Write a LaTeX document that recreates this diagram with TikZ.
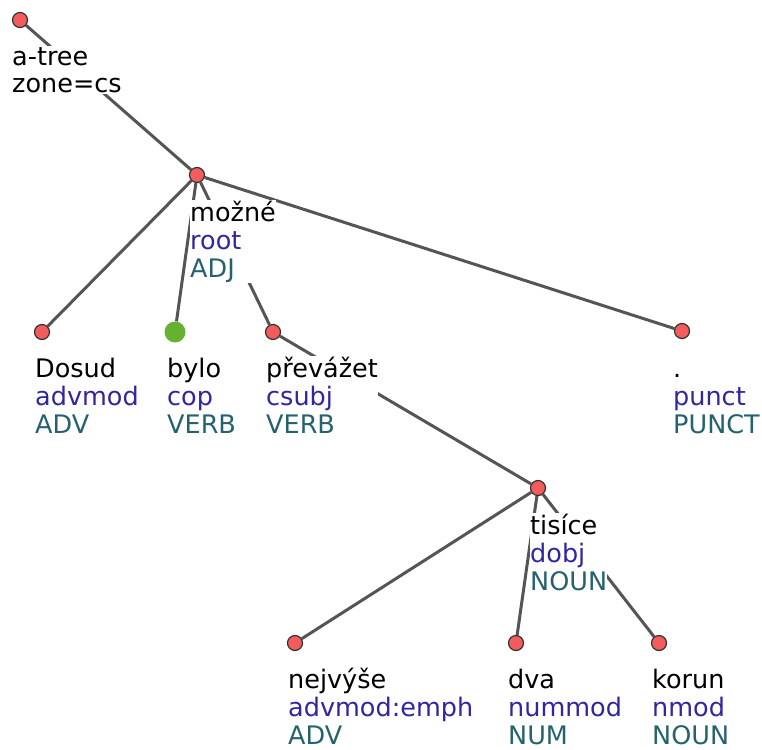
\documentclass[tikz,border=0pt]{standalone}
\usepackage{fontspec}
\setmainfont{DejaVu Sans}
\usepackage{xcolor}
\usetikzlibrary{positioning, backgrounds}
\definecolor{deprelcol}{RGB}{48,38,160}
\definecolor{uposcol}{RGB}{38,98,110}
\definecolor{edgecol}{RGB}{85,85,85}
\definecolor{nodecol}{RGB}{242,92,92}
\definecolor{copcol}{RGB}{102,176,50}
\tikzstyle{tok} = [circle, draw=black!80, fill=nodecol, line width=1.2pt, minimum size=15pt, inner sep=0pt]
\tikzstyle{copula} = [circle, fill=copcol, minimum size=21pt, inner sep=0pt]
\tikzstyle{lbl} = [anchor=base west, align=left, fill=white, inner xsep=0pt, inner ysep=1pt, font=\fontsize{25.5}{28}\selectfont]
\tikzstyle{edge} = [draw=edgecol, line width=3pt]
\newcommand{\dep}[1]{\textcolor{deprelcol}{#1}}
\newcommand{\upos}[1]{\textcolor{uposcol}{#1}}

\begin{document}
\begin{tikzpicture}[x=1pt, y=-1pt]
    \useasboundingbox (0,0) rectangle (762,749);
    % Tokens
    \node [tok] (atree) at (20,20) {};
    \node [tok] (mozne) at (197,175) {};
    \node [tok] (dosud) at (42,332) {};
    \node [copula] (bylo) at (175,332) {};
    \node [tok] (prevazet) at (273,332) {};
    \node [tok] (punct) at (682,331) {};
    \node [tok] (tisice) at (538,488) {};
    \node [tok] (nejvyse) at (295,643) {};
    \node [tok] (dva) at (516,643) {};
    \node [tok] (korun) at (659,643) {};

    % Labels (anchored at the baseline of the last line)
    \node [lbl] (atree-l) at ([xshift=-8pt, yshift=-73pt]atree) {a-tree\\zone=cs};
    \node [lbl] (mozne-l) at ([xshift=-7pt, yshift=-102pt]mozne) {možné\\\dep{root}\\\upos{ADJ}};
    \node [lbl] (dosud-l) at ([xshift=-7pt, yshift=-101pt]dosud) {Dosud\\\dep{advmod}\\\upos{ADV}};
    \node [lbl] (bylo-l) at ([xshift=-8pt, yshift=-101pt]bylo) {bylo\\\dep{cop}\\\upos{VERB}};
    \node [lbl] (prevazet-l) at ([xshift=-7pt, yshift=-101pt]prevazet) {převážet\\\dep{csubj}\\\upos{VERB}};
    \node [lbl] (punct-l) at ([xshift=-9pt, yshift=-102pt]punct) {.\\\dep{punct}\\\upos{PUNCT}};
    \node [lbl] (tisice-l) at ([xshift=-8pt, yshift=-102pt]tisice) {tisíce\\\dep{dobj}\\\upos{NOUN}};
    \node [lbl] (nejvyse-l) at ([xshift=-7pt, yshift=-101pt]nejvyse) {nejvýše\\\dep{advmod:emph}\\\upos{ADV}};
    \node [lbl] (dva-l) at ([xshift=-8pt, yshift=-101pt]dva) {dva\\\dep{nummod}\\\upos{NUM}};
    \node [lbl] (korun-l) at ([xshift=-7pt, yshift=-101pt]korun) {korun\\\dep{nmod}\\\upos{NOUN}};

    % Edges
    \begin{scope}[on background layer]
        \path [edge] (atree) -- (mozne);
        \path [edge] (mozne) -- (dosud);
        \path [edge] (mozne) -- (bylo);
        \path [edge] (mozne) -- (prevazet);
        \path [edge] (mozne) -- (punct);
        \path [edge] (prevazet) -- (tisice);
        \path [edge] (tisice) -- (nejvyse);
        \path [edge] (tisice) -- (dva);
        \path [edge] (tisice) -- (korun);
    \end{scope}
\end{tikzpicture}
\end{document}
